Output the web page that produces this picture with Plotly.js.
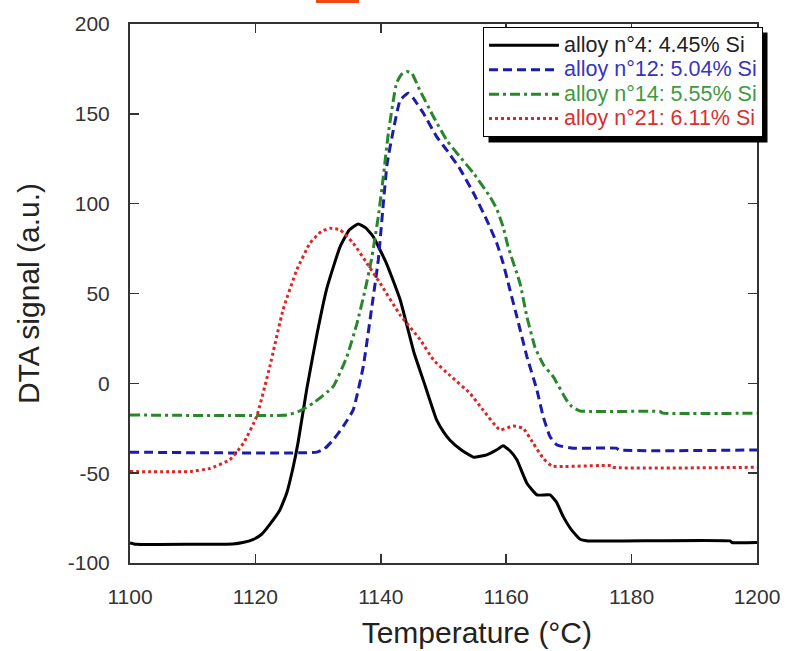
<!DOCTYPE html>
<html>
<head>
<meta charset="utf-8">
<script src="https://cdn.plot.ly/plotly-3.0.1.min.js"></script>
<style>html,body{margin:0;padding:0;background:#fff;}#chart{width:787px;height:651px;}</style>
</head>
<body>
<div id="chart"></div>
<script>
// alloy n°4: 4.45% Si
const t4 = [1100,1101,1110,1116.4,1118,1119.6,1121,1122.3,1123.9,1125,1126,1126.8,1128.2,1129.8,1131.4,1133.5,1135,1136.4,1137.6,1138.8,1140.9,1143.1,1145.3,1146.8,1148.9,1150,1151,1152.8,1154.8,1156.9,1158.5,1159.5,1160.6,1161.7,1163.3,1164.9,1167,1168,1169.1,1170.5,1171.8,1173,1195.7,1196,1200];
const v4 = [-88.8,-89.6,-89.6,-89.4,-88.6,-87,-84,-78.5,-70.5,-61,-47,-33,-3,27,53,76,85.5,88.7,86.5,81.6,66.8,46.4,17,1.5,-20.4,-27,-31.5,-37,-41.1,-39.8,-37,-34.8,-37.5,-42.6,-55.6,-62.1,-62.1,-66,-74.2,-82,-86.8,-87.7,-87.7,-88.6,-88.6];
// alloy n°12: 5.04% Si
const t12 = [1100,1129.8,1131,1132.4,1134,1135.6,1137.2,1138.5,1139.6,1140.4,1141,1142,1143.1,1144.4,1145.2,1146.8,1148.9,1150.5,1152.6,1154.8,1156.9,1158.5,1159.5,1160.6,1161.7,1163.3,1164.9,1165.9,1167,1168.1,1170.7,1177.6,1178,1200];
const v12 = [-38.3,-38.3,-36.5,-31.5,-24,-14.8,9.3,40.8,68.7,100,122,141,157.7,161.4,158.6,150.3,137.3,129.9,119.5,105.8,90.9,78,67,52,37.1,14.9,-3.7,-18.5,-29.7,-34.3,-36.1,-36.1,-37.1,-37.1];
// alloy n°14: 5.55% Si
const t14 = [1100,1125,1127,1129.2,1132.4,1134.6,1136.2,1137.5,1138.5,1139.6,1140.4,1141.2,1142.5,1143.3,1144.1,1144.9,1146.2,1148.4,1150.5,1152.6,1154.8,1157.4,1158.5,1159.5,1160.3,1162.2,1163.3,1164.6,1166,1167.5,1169.6,1170.5,1171.8,1184.5,1185,1200];
const v14 = [-17.6,-17.6,-15.5,-11.1,-1.8,14.9,33.4,52,68.7,92.8,115,139.2,167,172,173.5,172.9,163.3,148.4,135.4,126.2,116.9,103.9,97,87.2,76.1,55.7,37.1,20,10,3.7,-9.2,-13,-15.4,-15.7,-16.6,-16.6];
// alloy n°21: 6.11% Si
const t21 = [1100,1109.6,1112.8,1115.9,1118.1,1120.2,1122.3,1124.4,1126.6,1128.7,1130.5,1131.9,1133.5,1135.6,1137.8,1139.9,1143.1,1146.3,1148.4,1151,1154.2,1156.3,1159,1161.1,1162.7,1164.3,1165.9,1167.3,1176.8,1177,1200];
const v21 = [-49.1,-49.1,-47.3,-42.6,-33.3,-18.5,9.3,40.8,63.1,78,84.5,86.3,85.4,78,66.8,55.7,38,24.2,13,4.5,-5.5,-14.8,-25.9,-23.7,-25,-33.3,-41.7,-46,-45.8,-46.7,-46.7];

const names = ['alloy n°4: 4.45% Si','alloy n°12: 5.04% Si','alloy n°14: 5.55% Si','alloy n°21: 6.11% Si'];
const xTickVals = [1100,1120,1140,1160,1180,1200];
const xTickText = ['1100','1120','1140','1160','1180','1200'];
const yTickVals = [-100,-50,0,50,100,150,200];
const yTickText = ['-100','-50','0','50','100','150','200'];
const xTitle = 'Temperature (°C)';
const yTitle = 'DTA signal (a.u.)';

const lineColors = ['#000000','#1c1ca8','#2a862a','#e02424'];
const textColors = ['#222222','#3535c0','#3f9a3f','#d83030'];
const dashes = ['solid','9px,5px','10px,4px,3px,4px','3px,3px'];
const xs = [t4,t12,t14,t21];
const ys = [v4,v12,v14,v21];

const traces = xs.map((x,i)=>({
  x: x, y: ys[i], type:'scatter', mode:'lines',
  name: '<span style="color:'+textColors[i]+';font-size:21.5px">'+names[i]+'</span>',
  line:{color:lineColors[i], width:3, dash:dashes[i], shape:'spline', smoothing:0.4}
}));

const FF = 'Liberation Sans, Arial, sans-serif';
const axisFont = {family:FF, size:21, color:'#333'};
const titleFont = {family:FF, size:30, color:'#222'};
const layout = {
  width:787, height:651,
  margin:{l:130, r:30, t:24, b:88},
  paper_bgcolor:'#fff', plot_bgcolor:'#fff',
  showlegend:true,
  xaxis:{range:[1100,1200], tickvals:xTickVals, ticktext:xTickText, ticks:'inside', ticklen:9, tickwidth:1.5, tickcolor:'#333',
    showline:true, linecolor:'#333', linewidth:2, mirror:'ticks', showgrid:false, zeroline:false,
    tickfont:axisFont, ticklabelstandoff:14,
    title:{text:'&nbsp;&nbsp;&nbsp;&nbsp;&nbsp;&nbsp;&nbsp;&nbsp;'+xTitle, font:titleFont, standoff:15}},
  yaxis:{range:[-100,200], tickvals:yTickVals, ticktext:yTickText, ticks:'inside', ticklen:9, tickwidth:1.5, tickcolor:'#333',
    showline:true, linecolor:'#333', linewidth:2, mirror:'ticks', showgrid:false, zeroline:false,
    tickfont:axisFont, ticklabelstandoff:14,
    title:{text:yTitle, font:titleFont, standoff:19}},
  legend:{x:0.563, y:0.9944, xanchor:'left', yanchor:'top', bgcolor:'#fff', bordercolor:'#000', borderwidth:1,
    itemwidth:70, font:{family:FF, size:16.5}, tracegroupgap:0},
  shapes:[
    {type:'rect', xref:'paper', yref:'paper', x0:(488-130)/627, x1:(768-130)/627, y0:(563-146)/539, y1:(563-32)/539, fillcolor:'#000', line:{width:0}, layer:'above'},
    {type:'rect', xref:'paper', yref:'paper', x0:(316-130)/627, x1:(359-130)/627, y0:(563-3)/539, y1:(563+1)/539+0.05, fillcolor:'#f04a14', line:{width:0}, layer:'above'}
  ]
};
const gd = document.getElementById('chart');
Plotly.newPlot(gd, traces, layout, {displayModeBar:false, staticPlot:true}).then(()=>{
  const bg = gd.querySelector('.legend rect.bg');
  if(!bg) return;
  const r = bg.getBoundingClientRect();
  const c = gd.getBoundingClientRect();
  const fl = gd._fullLayout, sz = fl._size;
  const px = (v)=> (v - sz.l)/sz.w;
  const py = (v)=> (sz.t + sz.h - v)/sz.h;
  const L = r.left - c.left, T = r.top - c.top, R = r.right - c.left, B = r.bottom - c.top;
  return Plotly.relayout(gd, {
    'shapes[0].x0': px(L+5), 'shapes[0].x1': px(R+5),
    'shapes[0].y0': py(B+6), 'shapes[0].y1': py(T+5)
  });
});
</script>
</body>
</html>
